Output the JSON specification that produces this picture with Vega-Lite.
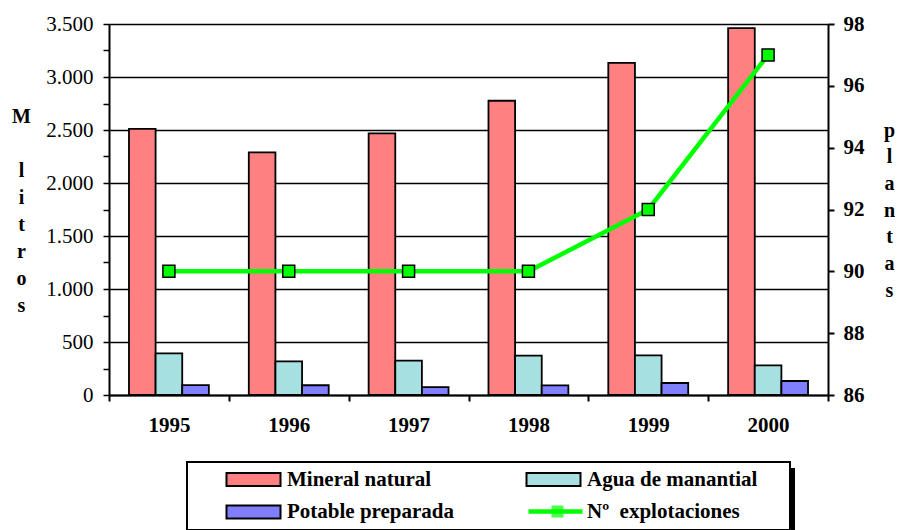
{
  "$schema": "https://vega.github.io/schema/vega-lite/v6.json",
  "width": 719,
  "height": 371,
  "autosize": "none",
  "padding": {"left": 109, "top": 24, "right": 69, "bottom": 135},
  "background": "white",
  "config": {"font": "Liberation Serif", "view": {"stroke": null}},
  "datasets": {
    "barras": [
      {"anio": "1995", "serie": "Mineral natural", "valor": 2510},
      {"anio": "1995", "serie": "Agua de manantial", "valor": 393},
      {"anio": "1995", "serie": "Potable preparada", "valor": 94},
      {"anio": "1996", "serie": "Mineral natural", "valor": 2288},
      {"anio": "1996", "serie": "Agua de manantial", "valor": 318},
      {"anio": "1996", "serie": "Potable preparada", "valor": 92},
      {"anio": "1997", "serie": "Mineral natural", "valor": 2468},
      {"anio": "1997", "serie": "Agua de manantial", "valor": 324},
      {"anio": "1997", "serie": "Potable preparada", "valor": 75},
      {"anio": "1998", "serie": "Mineral natural", "valor": 2776},
      {"anio": "1998", "serie": "Agua de manantial", "valor": 371},
      {"anio": "1998", "serie": "Potable preparada", "valor": 91},
      {"anio": "1999", "serie": "Mineral natural", "valor": 3133},
      {"anio": "1999", "serie": "Agua de manantial", "valor": 374},
      {"anio": "1999", "serie": "Potable preparada", "valor": 113},
      {"anio": "2000", "serie": "Mineral natural", "valor": 3462},
      {"anio": "2000", "serie": "Agua de manantial", "valor": 280},
      {"anio": "2000", "serie": "Potable preparada", "valor": 132}
    ],
    "explotaciones": [
      {"anio": "1995", "plantas": 90},
      {"anio": "1996", "plantas": 90},
      {"anio": "1997", "plantas": 90},
      {"anio": "1998", "plantas": 90},
      {"anio": "1999", "plantas": 92},
      {"anio": "2000", "plantas": 97}
    ]
  },
  "layer": [
    {
      "data": {"name": "barras"},
      "mark": {"type": "bar", "stroke": "black", "strokeWidth": 1.8},
      "encoding": {
        "x": {
          "field": "anio", "type": "ordinal",
          "scale": {"paddingInner": 0, "paddingOuter": 0},
          "axis": {
            "labelAngle": 0, "labelFont": "Liberation Serif", "labelFontSize": 21,
            "labelFontWeight": "bold", "labelColor": "black", "labelPadding": 13,
            "domainColor": "black", "domainWidth": 2, "tickColor": "black", "tickWidth": 2,
            "tickSize": 6, "tickBand": "extent", "grid": false,
            "title": "M", "titleAngle": 0, "titleX": -88, "titleY": -273, "titleAlign": "center",
            "titleBaseline": "alphabetic", "titleAnchor": null,
            "titleFont": "Liberation Serif", "titleFontSize": 20, "titleFontWeight": "bold", "titleColor": "black"
          }
        },
        "xOffset": {
          "field": "serie", "type": "nominal",
          "sort": ["Mineral natural", "Agua de manantial", "Potable preparada"],
          "scale": {"paddingInner": 0, "paddingOuter": 0.75}
        },
        "y": {
          "field": "valor", "type": "quantitative",
          "scale": {"domain": [0, 3500], "nice": false},
          "axis": {
            "orient": "left",
            "values": [0, 250, 500, 750, 1000, 1250, 1500, 1750, 2000, 2250, 2500, 2750, 3000, 3250, 3500],
            "labelExpr": "datum.value % 500 === 0 ? replace(format(datum.value, ','), ',', '.') : ''",
            "labelFont": "Liberation Serif", "labelFontSize": 21, "labelFontWeight": "normal", "labelColor": "black",
            "labelPadding": 10,
            "grid": true, "gridColor": "black", "gridWidth": 1.5,
            "gridOpacity": {"condition": {"test": "datum.value % 500 === 0", "value": 1}, "value": 0},
            "domainColor": "black", "domainWidth": 2, "tickColor": "black", "tickWidth": 1.5, "tickSize": 6,
            "title": ["l", "i", "t", "r", "o", "s"],
            "titleAngle": 0, "titleX": -88, "titleY": 152, "titleAlign": "center", "titleBaseline": "alphabetic",
            "titleFont": "Liberation Serif", "titleFontSize": 20, "titleFontWeight": "bold", "titleColor": "black",
            "titleLineHeight": 27
          }
        },
        "fill": {
          "field": "serie", "type": "nominal",
          "sort": ["Mineral natural", "Agua de manantial", "Potable preparada", "Nº\u00a0 explotaciones"],
          "scale": {
            "domain": ["Mineral natural", "Agua de manantial", "Potable preparada", "Nº\u00a0 explotaciones"],
            "range": ["#FF8080", "#A6E0E0", "#8080FF", "rgba(255,255,255,0)"]
          },
          "legend": {
            "title": ".", "titleOrient": "right", "titleColor": "white", "titleFontSize": 10, "titlePadding": 23,
            "orient": "none", "legendX": 78, "legendY": 438,
            "columns": 2, "direction": "horizontal",
            "symbolType": "M-4,-0.96H4V0.96H-4Z", "symbolSize": 182.25,
            "symbolStrokeColor": "black", "symbolStrokeWidth": 2, "symbolOpacity": 1,
            "labelFont": "Liberation Serif", "labelFontSize": 21, "labelFontWeight": "bold",
            "labelColor": "black", "labelOffset": 23, "labelLimit": 400,
            "strokeColor": "black", "fillColor": "white",
            "padding": 7, "symbolOffset": 49, "columnPadding": 39, "rowPadding": 10.5, "zindex": 1,
            "encode": {
              "legend": {"update": {"strokeWidth": {"value": 2}}},
              "symbols": {"update": {"strokeOpacity": {"signal": "datum.value === 'Nº\u00a0 explotaciones' ? 0 : 1"}}}
            }
          }
        }
      }
    },
    {
      "data": {"name": "explotaciones"},
      "encoding": {
        "x": {"field": "anio", "type": "ordinal"},
        "y": {
          "field": "plantas", "type": "quantitative",
          "scale": {"domain": [86, 98], "nice": false, "zero": false},
          "axis": {
            "orient": "right",
            "values": [86, 88, 90, 92, 94, 96, 98],
            "labelFont": "Liberation Serif", "labelFontSize": 21, "labelFontWeight": "bold", "labelColor": "black",
            "labelPadding": 9, "grid": false,
            "domainColor": "black", "domainWidth": 2, "tickColor": "black", "tickWidth": 2, "tickSize": 6,
            "title": ["p", "l", "a", "n", "t", "a", "s"],
            "titleAngle": 0, "titleX": 61, "titleY": 112, "titleAlign": "center", "titleBaseline": "alphabetic",
            "titleFont": "Liberation Serif", "titleFontSize": 20, "titleFontWeight": "bold", "titleColor": "black",
            "titleLineHeight": 26.7
          }
        }
      },
      "layer": [
        {
          "mark": {"type": "line", "strokeWidth": 4.5, "color": "#00FF00"},
          "encoding": {
            "stroke": {
              "datum": "linea", "type": "nominal",
              "scale": {"range": ["#00FF00"]},
              "legend": {
                "title": null, "orient": "none", "legendX": 436, "legendY": 477,
                "symbolType": "M-4,0H4", "symbolSize": 182.25, "symbolStrokeWidth": 4.5,
                "labelOpacity": 0, "labelFontSize": 21, "labelExpr": "''",
                "padding": 0, "zindex": 2
              }
            }
          }
        },
        {
          "mark": {"type": "point", "filled": true, "fill": "#00FF00", "stroke": "black", "strokeWidth": 1.5, "size": 144},
          "encoding": {
            "shape": {
              "datum": "punto", "type": "nominal",
              "scale": {"range": ["square"]},
              "legend": {
                "title": null, "orient": "none", "legendX": 438, "legendY": 477,
                "symbolSize": 144, "symbolFillColor": "#00FF00", "symbolStrokeColor": "black", "symbolStrokeWidth": 1.5,
                "labelOpacity": 0, "labelFontSize": 21, "labelExpr": "''",
                "padding": 0, "zindex": 3,
                "encode": {"symbols": {"update": {"fill": {"value": "#00FF00"}, "stroke": {"value": "black"}, "opacity": {"value": 1}, "strokeWidth": {"value": 1.5}, "size": {"value": 144}}}}
              }
            },
            "opacity": {
              "datum": "sombra", "type": "nominal",
              "scale": {"range": [1, 1]},
              "legend": {
                "title": null, "orient": "none", "legendX": 85, "legendY": 444,
                "symbolType": "square", "symbolSize": 5184, "symbolOffset": 520, "symbolStrokeWidth": 0,
                "labelOffset": 9, "labelExpr": "''", "labelFontSize": 1,
                "fillColor": "black", "padding": 0, "zindex": 0
              }
            }
          }
        }
      ]
    }
  ],
  "resolve": {"scale": {"y": "independent"}}
}
